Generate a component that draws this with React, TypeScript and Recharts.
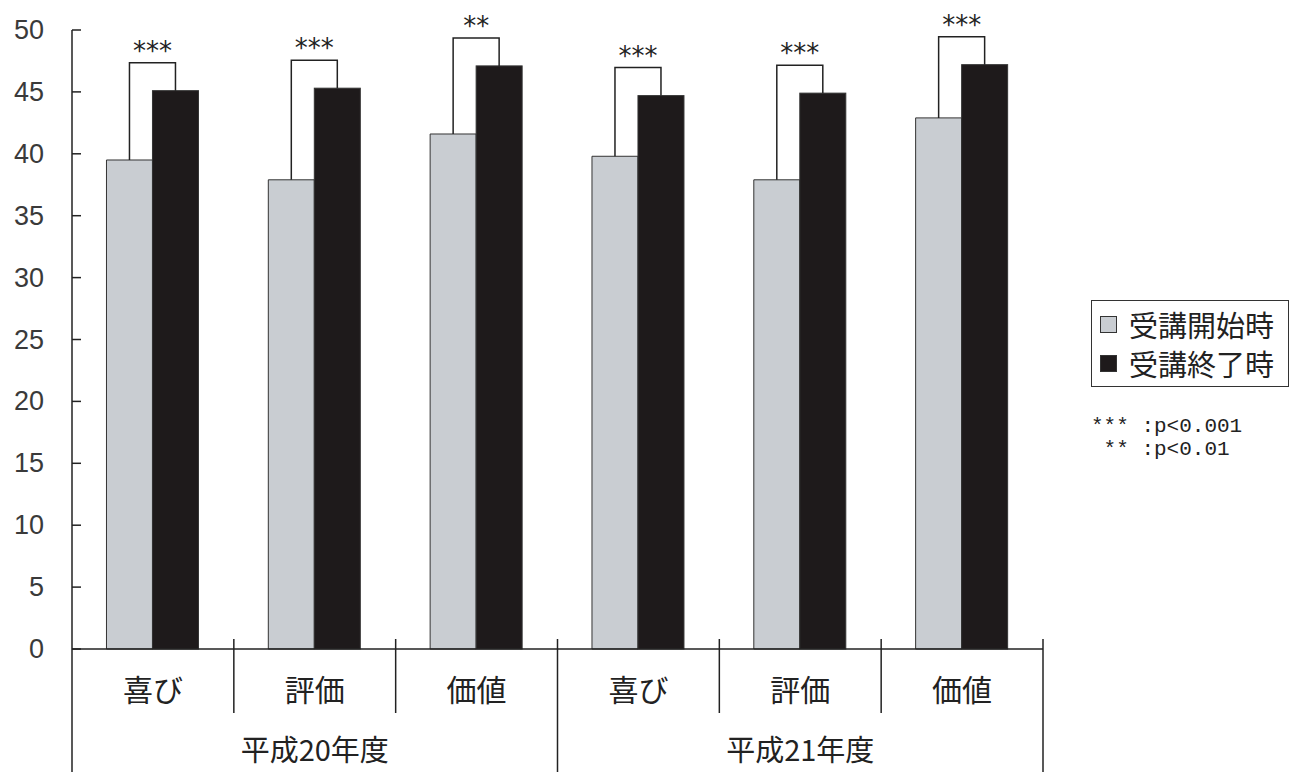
import { BarChart, Bar, XAxis, YAxis, Legend } from "recharts";

const categories = ["喜び", "評価", "価値", "喜び", "評価", "価値"];
const years = ["平成20年度", "平成20年度", "平成20年度", "平成21年度", "平成21年度", "平成21年度"];
const startScores = [39.5, 37.9, 41.6, 39.8, 37.9, 42.9];
const endScores = [45.1, 45.3, 47.1, 44.7, 44.9, 47.2];
const significance = ["***", "***", "**", "***", "***", "***"];
const yTicks = [0, 5, 10, 15, 20, 25, 30, 35, 40, 45, 50];
const seriesKeys = ["start", "end"];
const footnotes = ["*** :p<0.001", " ** :p<0.01"];

const data = categories.map((c, i) => ({
  key: `${years[i]}-${c}`,
  category: c,
  year: years[i],
  start: startScores[i],
  end: endScores[i],
  sig: significance[i],
}));

// layout
const W = 1295;
const H = 772;
const M = { top: 30, right: 252, bottom: 0, left: 0 };
const Y_W = 72;
const X1_H = 64;
const X2_H = 59;
const PLOT_W = W - M.left - M.right - Y_W;

const CJK = '"Noto Sans CJK JP", sans-serif';
const LINE = "#222";

function YTick(props: any) {
  const { x, y, payload } = props;
  return (
    <g>
      <line x1={x} x2={x + 9} y1={y} y2={y} stroke={LINE} strokeWidth={1.5} />
      <text x={x - 28} y={y} textAnchor="end" dominantBaseline="central" fontFamily='"Liberation Sans", sans-serif' fontSize={27} fill="#3a3a3a">
        {payload.value}
      </text>
    </g>
  );
}

function CategoryTick(props: any) {
  const { x, y, payload } = props;
  const i = props.index ?? payload.index;
  const band = PLOT_W / categories.length;
  const right = x + band / 2;
  const endOfYear = i === categories.length - 1 || years[i] !== years[i + 1];
  return (
    <g>
      {i === 0 && (
        <line x1={x - band / 2} x2={x - band / 2} y1={y} y2={y + X1_H + X2_H} stroke={LINE} strokeWidth={1.5} />
      )}
      <line x1={right} x2={right} y1={y - 10} y2={y + (endOfYear ? X1_H + X2_H : X1_H)} stroke={LINE} strokeWidth={1.5} />
      <text x={x} y={y + 39} textAnchor="middle" dominantBaseline="central" fontFamily={CJK} fontSize={30} fill="#222">
        {categories[i]}
      </text>
    </g>
  );
}

function YearTick(props: any) {
  const { x, y, payload } = props;
  return (
    <text x={x} y={y + 35} textAnchor="middle" dominantBaseline="central" fontFamily={CJK} fontSize={29} fill="#222">
      {payload.value}
    </text>
  );
}

// dark bar + significance bracket, derived from the bar geometry
function EndBar(props: any) {
  const { x, y, width, height, payload, fill } = props;
  const bottom = y + height;
  const k = height / payload.end;
  const lightTop = bottom - payload.start * k;
  const top = Math.min(lightTop, y) - 28;
  const lx = x - width / 2;
  const rx = x + width / 2;
  return (
    <g>
      <rect x={x} y={y} width={width} height={height} fill={fill} stroke="#333" strokeWidth={1} />
      <path d={`M${lx},${lightTop} L${lx},${top} L${rx},${top} L${rx},${y}`} fill="none" stroke={LINE} strokeWidth={1.5} />
      <text x={(lx + rx) / 2} y={top - 3} textAnchor="middle" fontFamily='"DejaVu Sans", sans-serif' fontSize={26} fill="#222">
        {payload.sig}
      </text>
    </g>
  );
}

function LegendBox(props: any) {
  const items = [...(props.payload || [])].sort(
    (a: any, b: any) => seriesKeys.indexOf(a.dataKey) - seriesKeys.indexOf(b.dataKey)
  );
  return (
    <div
      style={{
        border: "1.5px solid #333",
        boxSizing: "border-box",
        width: 198,
        height: 87,
        padding: "4px 8px",
        fontFamily: CJK,
        fontSize: 29,
        lineHeight: 1,
        color: "#222",
        background: "#fff",
      }}
    >
      {items.map((e: any) => (
        <div key={e.value} style={{ display: "flex", alignItems: "center", height: 39, lineHeight: 1 }}>
          <span
            style={{
              display: "inline-block",
              boxSizing: "border-box",
              width: 17,
              height: 17,
              background: e.color,
              border: "1px solid #333",
              marginRight: 12,
            }}
          />
          {e.value}
        </div>
      ))}
    </div>
  );
}

export default function App() {
  return (
    <div style={{ position: "absolute", left: 0, top: 0, width: W, height: H, background: "#fff" }}>
      <BarChart width={W} height={H} data={data} margin={M} barCategoryGap="21.3%" barGap={0}>
        <YAxis
          width={Y_W}
          domain={[0, 50]}
          ticks={yTicks}
          interval={0}
          tickSize={0}
          tickMargin={0}
          tickLine={false}
          axisLine={{ stroke: LINE, strokeWidth: 1.5 }}
          tick={<YTick />}
        />
        <XAxis
          dataKey="key"
          height={X1_H}
          interval={0}
          tickSize={0}
          tickMargin={0}
          tickLine={false}
          axisLine={{ stroke: LINE, strokeWidth: 1.5 }}
          tick={<CategoryTick />}
        />
        <XAxis
          xAxisId="year"
          dataKey="year"
          allowDuplicatedCategory={false}
          height={X2_H}
          interval={0}
          tickSize={0}
          tickMargin={0}
          tickLine={false}
          axisLine={false}
          tick={<YearTick />}
        />
        <Legend
          layout="horizontal"
          verticalAlign="middle"
          align="center"
          wrapperStyle={{ left: 1091, top: 300, width: 198, height: 87 }}
          content={<LegendBox />}
        />
        <Bar dataKey="start" name="受講開始時" fill="#c9cdd2" stroke="#333" strokeWidth={1} isAnimationActive={false} />
        <Bar dataKey="end" name="受講終了時" fill="#1e1a1b" shape={<EndBar />} isAnimationActive={false} />
      </BarChart>
      <div
        style={{
          position: "absolute",
          left: 1091,
          top: 415,
          fontFamily: '"Liberation Mono", monospace',
          fontSize: 21,
          lineHeight: "23px",
          whiteSpace: "pre",
          color: "#222",
        }}
      >
        {footnotes.map((f) => (
          <div key={f}>{f}</div>
        ))}
      </div>
    </div>
  );
}
